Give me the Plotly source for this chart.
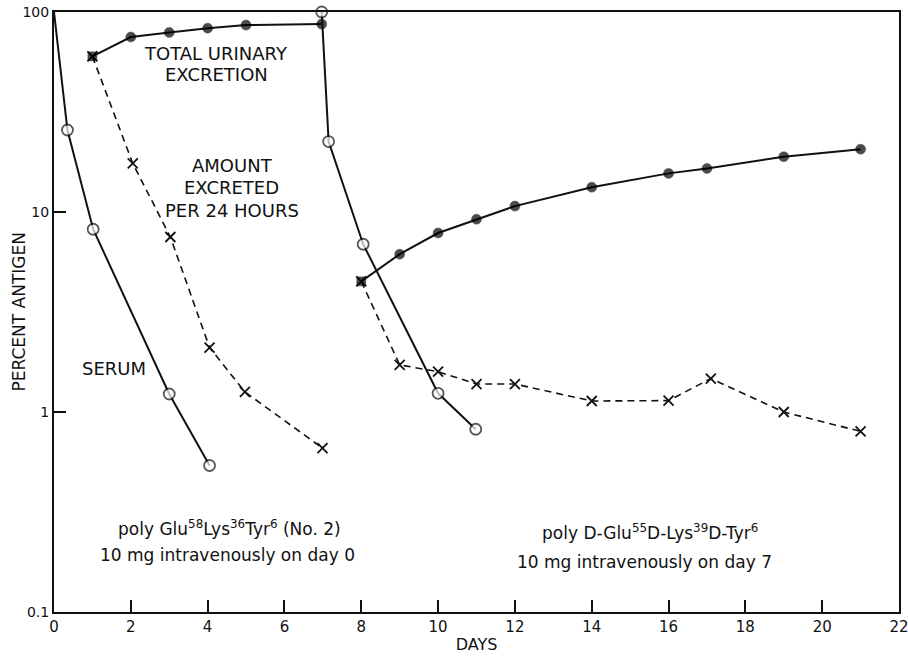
import plotly.graph_objects as go

# Serum antigen (open circles), two injections
serum1_days = [0, 0.35, 1.02, 3.0, 4.05]
serum1_pct = [100, 25.7, 8.2, 1.23, 0.54]
serum2_days = [6.97, 7.15, 8.05, 10.0, 10.98]
serum2_pct = [100, 22.5, 6.9, 1.24, 0.82]

# Total (cumulative) urinary excretion (filled circles)
total1_days = [1, 2, 3, 4, 5, 6.97]
total1_pct = [60, 75, 79, 83, 86, 87]
total2_days = [8, 9, 10, 11, 12, 14, 16, 17, 19, 21]
total2_pct = [4.5, 6.15, 7.85, 9.2, 10.7, 13.3, 15.6, 16.5, 18.9, 20.6]

# Amount excreted per 24 hours (x markers, dashed)
daily1_days = [1, 2.05, 3.03, 4.05, 4.97, 6.99]
daily1_pct = [60, 17.5, 7.5, 2.1, 1.26, 0.66]
daily2_days = [8, 9, 10, 11, 12, 14, 16, 17.1, 19, 21]
daily2_pct = [4.5, 1.72, 1.59, 1.38, 1.38, 1.135, 1.14, 1.47, 1.0, 0.8]

x_ticks = list(range(0, 23, 2))
y_ticks = [0.1, 1, 10, 100]
y_tick_text = ["0.1", "1", "10", "100"]

INK = "#111111"
FONT = "DejaVu Sans"

fig = go.Figure()


def serum_trace(days, pct, first_hidden):
    sizes = [11] * len(days)
    if first_hidden:
        sizes[0] = 0
    return go.Scatter(
        x=days, y=pct, mode="lines+markers",
        line=dict(color=INK, width=2),
        marker=dict(symbol="circle", size=sizes, color="white",
                    line=dict(color=INK, width=1.8)),
        cliponaxis=False, showlegend=False,
    )


def total_trace(days, pct):
    symbols = ["square"] + ["circle"] * (len(days) - 1)
    sizes = [9] + [10] * (len(days) - 1)
    return go.Scatter(
        x=days, y=pct, mode="lines+markers",
        line=dict(color=INK, width=2),
        marker=dict(symbol=symbols, size=sizes, color="black",
                    line=dict(color="black", width=0.5)),
        cliponaxis=False, showlegend=False,
    )


def daily_trace(days, pct):
    return go.Scatter(
        x=days, y=pct, mode="lines+markers",
        line=dict(color=INK, width=1.6, dash="7px,5px"),
        marker=dict(symbol="x-thin", size=10,
                    line=dict(color=INK, width=1.8)),
        cliponaxis=False, showlegend=False,
    )


fig.add_trace(daily_trace(daily1_days, daily1_pct))
fig.add_trace(daily_trace(daily2_days, daily2_pct))
fig.add_trace(total_trace(total1_days, total1_pct))
fig.add_trace(total_trace(total2_days, total2_pct))
fig.add_trace(serum_trace(serum1_days, serum1_pct, True))
fig.add_trace(serum_trace(serum2_days, serum2_pct, False))

label_font = dict(family=FONT, size=18, color=INK)
notes = [
    (4.22, 1.795, "TOTAL URINARY"),
    (4.22, 1.69, "EXCRETION"),
    (4.66, 1.235, "AMOUNT"),
    (4.63, 1.125, "EXCRETED"),
    (4.63, 1.01, "PER 24 HOURS"),
    (1.55, 0.22, "SERUM"),
]
for xd, ylog, txt in notes:
    fig.add_annotation(x=xd, y=ylog, text=txt, showarrow=False,
                       font=label_font, xanchor="center", yanchor="middle")

sub_font = dict(family=FONT, size=17, color=INK)
fig.add_annotation(x=4.58, y=-0.58,
                   text="poly Glu<sup>58</sup>Lys<sup>36</sup>Tyr<sup>6</sup> (No. 2)",
                   showarrow=False, font=sub_font, xanchor="center", yanchor="middle")
fig.add_annotation(x=4.53, y=-0.715, text="10 mg intravenously on day 0",
                   showarrow=False, font=sub_font, xanchor="center", yanchor="middle")
fig.add_annotation(x=15.52, y=-0.6,
                   text="poly D-Glu<sup>55</sup>D-Lys<sup>39</sup>D-Tyr<sup>6</sup>",
                   showarrow=False, font=sub_font, xanchor="center", yanchor="middle")
fig.add_annotation(x=15.38, y=-0.75, text="10 mg intravenously on day 7",
                   showarrow=False, font=sub_font, xanchor="center", yanchor="middle")

# vertical axis title placed just left of the tick labels
fig.add_annotation(xref="paper", yref="paper", x=-0.042, y=0.5,
                   text="PERCENT ANTIGEN", textangle=-90, showarrow=False,
                   font=dict(family=FONT, size=17, color=INK),
                   xanchor="center", yanchor="middle")

fig.update_layout(
    width=908, height=656,
    margin=dict(l=54, r=9, t=12, b=44),
    paper_bgcolor="white", plot_bgcolor="white",
    font=dict(family=FONT, size=14, color=INK),
    xaxis=dict(
        range=[0, 22], tickvals=x_ticks, ticktext=[str(v) for v in x_ticks],
        ticks="inside", ticklen=12, tickwidth=1.5, tickcolor=INK,
        showline=True, linecolor=INK, linewidth=2, mirror=True,
        showgrid=False, zeroline=False, automargin=False,
        ticklabeloverflow="allow",
        tickfont=dict(family=FONT, size=15, color=INK),
        title=dict(text="DAYS", font=dict(family=FONT, size=16, color=INK), standoff=4),
    ),
    yaxis=dict(
        type="log", range=[-1, 2], tickvals=y_ticks, ticktext=y_tick_text,
        ticks="inside", ticklen=12, tickwidth=1.5, tickcolor=INK,
        showline=True, linecolor=INK, linewidth=2, mirror=True,
        showgrid=False, zeroline=False, automargin=False,
        ticklabeloverflow="allow",
        tickfont=dict(family=FONT, size=14, color=INK),
    ),
)

fig.write_html("out.html")
